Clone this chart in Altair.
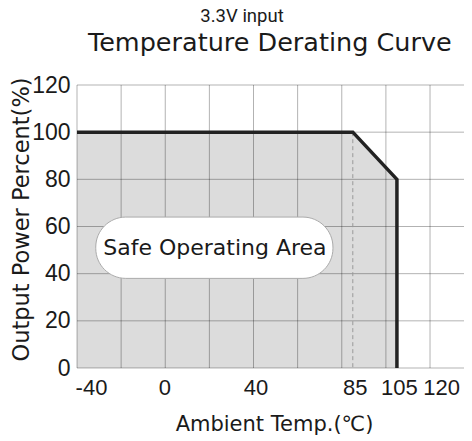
import altair as alt
import pandas as pd

# ---- data ----
curve_temp = [-40, 85, 105, 105]
curve_power = [100, 100, 80, 0]
area_temp = [-40, 85, 105]
area_power = [100, 100, 80]
grid_x = [-40, -20, 0, 20, 40, 60, 80, 100, 120]
grid_y = [0, 20, 40, 60, 80, 100, 120]
x_ticks = [-40, 0, 40, 85, 105, 120]
y_ticks = [0, 20, 40, 60, 80, 100, 120]
derate_temp = [85]
derate_power = [100]
label_text = ["Safe Operating Area"]
label_temp = [22.5]
label_power = [51]
box_temp = [-31.5, 76]
box_power = [38, 64]
heading_text = ["3.3V input"]
heading_temp = [34.8]
heading_power = [146.6]
title_text = ["Temperature Derating Curve"]
title_temp = [47.4]
title_power = [134.6]

curve_df = pd.DataFrame({"temp": curve_temp, "power": curve_power, "i": list(range(len(curve_temp)))})
area_df = pd.DataFrame({"temp": area_temp, "power": area_power})
gx_df = pd.DataFrame({"temp": grid_x})
gy_df = pd.DataFrame({"power": grid_y})
derate_df = pd.DataFrame({"temp": derate_temp, "power": derate_power})
label_df = pd.DataFrame({"temp": label_temp, "power": label_power, "text": label_text})
heading_df = pd.DataFrame({"temp": heading_temp, "power": heading_power, "text": heading_text})
title_df = pd.DataFrame({"temp": title_temp, "power": title_power, "text": title_text})
box_df = pd.DataFrame({"temp": [box_temp[0]], "temp2": [box_temp[1]],
                       "power": [box_power[0]], "power2": [box_power[1]]})

xs = alt.Scale(domain=[-40, 135.4], nice=False, zero=False)
ys = alt.Scale(domain=[0, 120], nice=False, zero=False)

x_label_expr = "datum.value < 0 ? '-' + abs(datum.value) : datum.label"
x_label_offset = {
    "condition": [
        {"test": "datum.value == -40", "value": 14},
        {"test": "datum.value == 120", "value": 11},
        {"test": "datum.value == 0", "value": -1},
    ],
    "value": 2,
}

x_axis = alt.Axis(values=x_ticks, grid=False, ticks=False, domain=False,
                  labelFont="Liberation Sans", labelFontSize=22, labelColor="#1a1a1a",
                  labelPadding=9, labelOverlap=False, labelFlush=False, labelExpr=x_label_expr,
                  labelOffset=x_label_offset,
                  title="Ambient Temp.(℃)", titleFont="DejaVu Sans", titleFontSize=21,
                  titleFontWeight="normal", titleColor="#1a1a1a",
                  titleX=197, titleY=62, titleAlign="center", titleBaseline="alphabetic")
y_axis = alt.Axis(values=y_ticks, grid=False, ticks=False, domain=False,
                  labelFont="Liberation Sans", labelFontSize=23, labelColor="#1a1a1a",
                  labelPadding=7, labelOverlap=False,
                  title="Output Power Percent(%)", titleFont="DejaVu Sans", titleFontSize=22.5,
                  titleFontWeight="normal", titleColor="#1a1a1a",
                  titleX=-56, titleY=134, titleAlign="center", titleBaseline="middle")

X = alt.X("temp:Q", scale=xs, axis=x_axis)
Y = alt.Y("power:Q", scale=ys, axis=y_axis)

area = alt.Chart(area_df).mark_area(color="#dcdcdc", opacity=1).encode(x=X, y=Y)

vgrid = alt.Chart(gx_df).mark_rule(color="#000", opacity=0.3, strokeWidth=1).encode(x=X)
hgrid = alt.Chart(gy_df).mark_rule(color="#000", opacity=0.3, strokeWidth=1).encode(y=Y)

dashed = alt.Chart(derate_df).mark_rule(color="#999", strokeWidth=1, strokeDash=[4, 3]).encode(
    x=X, y=Y, y2=alt.datum(0))

box = alt.Chart(box_df).mark_rect(fill="white", stroke="#aaa", strokeWidth=1, cornerRadius=30).encode(
    x=X, x2="temp2:Q", y=Y, y2="power2:Q")

label = alt.Chart(label_df).mark_text(font="DejaVu Sans", fontSize=22, color="#1a1a1a").encode(
    x=X, y=Y, text="text:N")

heading = alt.Chart(heading_df).mark_text(font="Roboto", fontSize=18.5, color="#1a1a1a",
                                          baseline="alphabetic").encode(
    x=X, y=Y, text="text:N")

main_title = alt.Chart(title_df).mark_text(font="DejaVu Sans", fontSize=25.5, color="#1a1a1a",
                                           baseline="alphabetic").encode(
    x=X, y=Y, text="text:N")

line = alt.Chart(curve_df).mark_line(color="#222", strokeWidth=3.5, strokeJoin="miter").encode(
    x=X, y=Y, order="i:Q")

chart = alt.layer(area, vgrid, hgrid, dashed, box, label, line, heading, main_title).properties(
    width=387, height=283,
    autosize=alt.AutoSizeParams(type="none"),
    padding={"left": 69, "top": 77, "right": 0, "bottom": 72},
).configure_view(stroke=None)

chart.save("out.html", embed_options={"renderer": "svg", "actions": False})
